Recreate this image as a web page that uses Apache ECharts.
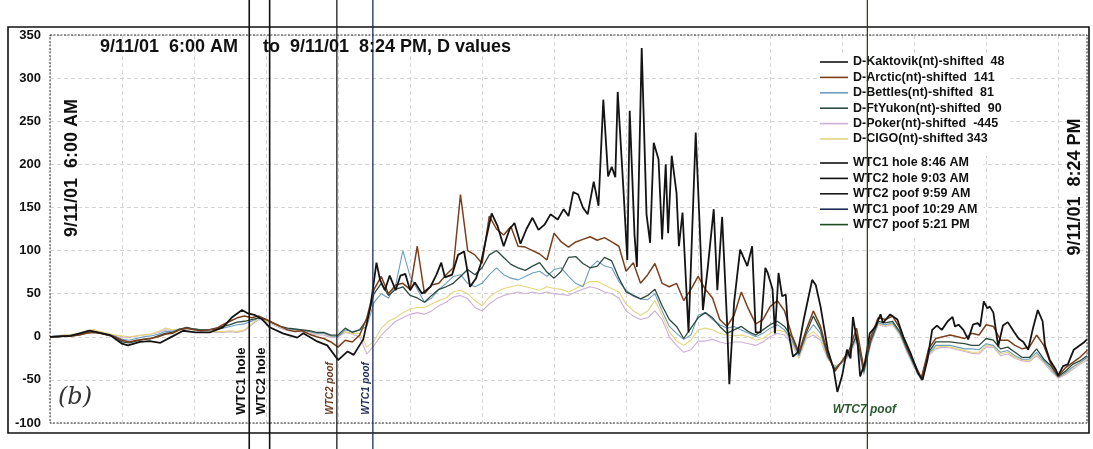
<!DOCTYPE html>
<html>
<head>
<meta charset="utf-8">
<title>9/11/01 D values</title>
<script src="https://cdn.jsdelivr.net/npm/echarts@6/dist/echarts.min.js"></script>
<style>
  html, body { margin: 0; padding: 0; background: #fff; }
  #chart { width: 1093px; height: 449px; }
</style>
</head>
<body>
<div id="chart"></div>
<script>
// x = minutes after 6:00 AM (864 = 8:24 PM); the lighter stations are read every 6 minutes
const STEP = 6;

// Kaktovik is spiky, so it is kept as traced vertices [minute, value]
const kaktovik = [
  [0,0],[17,1],[33,7],[50,2],[60,-8],[65,-10],[75,-6],[83,-5],[92,-7],[100,-1],
  [111,7],[121,5],[133,5],[144,11],[152,23],[160,31],[165,27],[171,25],[177,20],[183,11],
  [194,4],[206,-1],[211,4],[222,-5],[231,-10],[240,-27],[248,-17],[253,-21],[261,-3],[267,35],
  [272,86],[275,66],[279,54],[283,71],[288,54],[292,71],[296,73],[300,54],[304,63],[310,50],
  [317,58],[322,72],[326,86],[329,69],[335,72],[340,95],[345,99],[350,58],[355,68],[359,85],
  [364,118],[368,143],[373,128],[378,105],[383,125],[387,132],[392,108],[397,125],[402,138],[407,124],
  [412,130],[417,142],[423,136],[428,148],[432,140],[436,168],[440,165],[444,150],[448,142],[453,180],
  [457,152],[461,275],[465,186],[468,197],[471,185],[473,284],[478,165],[481,89],[483,262],[487,118],
  [489,81],[493,335],[497,142],[500,109],[503,225],[507,206],[510,113],[513,200],[515,120],[518,210],
  [522,167],[524,105],[527,144],[532,5],[538,237],[541,139],[544,31],[548,80],[553,148],[556,54],
  [560,139],[564,20],[566,-55],[570,40],[575,101],[581,82],[585,105],[588,5],[592,5],[596,80],
  [598,74],[602,55],[604,4],[607,74],[610,47],[613,49],[615,8],[619,-23],[623,-18],[628,20],
  [635,66],[638,60],[642,35],[648,-15],[653,-38],[656,-64],[660,-45],[664,-15],[667,-25],[669,23],
  [673,-10],[675,-46],[679,-30],[683,4],[688,12],[692,26],[694,16],[700,26],[706,20],[711,0],
  [717,-19],[723,-42],[727,-50],[731,-27],[735,8],[739,13],[743,8],[748,18],[752,23],[754,12],
  [757,14],[761,8],[765,-3],[769,14],[773,16],[775,12],[778,41],[781,33],[783,35],[786,28],
  [790,-11],[794,13],[798,17],[803,6],[807,-2],[811,-6],[815,-15],[819,10],[823,31],[827,18],
  [829,-10],[833,-27],[838,-38],[840,-45],[844,-34],[848,-32],[853,-15],[857,-11],[861,-7],[864,-3]
];

const arctic = [
  0,0,1,1,2,4,5,4,2,0,
  -4,-6,-4,-3,-2,0,3,4,8,10,
  8,7,8,9,14,18,22,24,22,24,
  20,16,12,8,6,7,3,0,-2,-6,
  -12,-4,-6,2,22,55,70,50,60,62,
  55,105,50,60,62,72,80,165,100,95,
  85,140,125,118,128,105,104,100,96,89,
  120,110,104,110,113,116,112,115,110,105,
  76,86,62,72,85,62,58,62,42,55,
  70,55,45,20,12,25,52,32,15,20,
  35,42,30,2,-18,8,30,12,-20,-40,
  -28,-15,10,-36,0,22,20,24,10,-12,
  -30,-48,-14,-2,0,2,0,-2,4,2,
  14,12,-4,-4,-10,-14,-12,2,-10,-32,
  -46,-36,-30,-24,-16
];

const bettles = [
  0,1,1,2,3,5,6,5,3,1,
  -3,-4,-2,0,1,3,6,6,9,10,
  9,8,8,8,10,12,14,15,18,22,
  20,16,12,9,8,8,6,4,4,1,
  0,8,6,8,12,40,50,45,60,100,
  70,55,40,45,55,62,70,72,62,58,
  62,72,80,72,68,66,70,74,76,70,
  78,80,70,62,58,80,88,82,80,64,
  54,47,44,43,50,30,12,4,-3,2,
  25,28,20,14,10,12,8,4,0,4,
  10,14,8,-4,-22,2,14,4,-24,-36,
  -30,-20,0,-42,-6,16,14,16,4,-16,
  -34,-50,-20,-10,-10,-10,-12,-14,-14,-15,
  -8,-10,-18,-16,-22,-26,-26,-18,-28,-37,
  -47,-42,-35,-30,-24
];

const ftYukon = [
  0,0,1,1,2,4,6,4,2,0,
  -6,-7,-5,-3,-2,1,4,5,9,11,
  9,8,8,10,12,14,17,18,20,22,
  20,16,12,10,9,8,7,5,5,2,
  2,10,5,8,20,50,62,48,55,58,
  48,45,40,48,55,58,62,70,78,72,
  80,95,100,92,84,80,77,82,86,75,
  68,76,92,93,85,80,82,92,88,68,
  52,48,44,48,55,36,20,12,-2,10,
  22,28,22,12,4,8,12,6,2,8,
  14,18,12,0,-20,4,24,8,-22,-38,
  -28,-18,2,-40,-4,18,16,18,6,-14,
  -32,-48,-18,-6,-6,-6,-7,-8,-10,-10,
  -2,-4,-14,-12,-18,-24,-24,-14,-26,-34,
  -46,-40,-32,-28,-22
];

const poker = [
  0,1,2,2,3,6,8,5,3,2,
  0,-1,1,2,3,5,8,7,8,9,
  9,7,7,5,5,6,5,7,14,20,
  18,14,10,7,6,6,4,2,2,-1,
  0,5,3,0,-20,-10,2,10,18,22,
  26,28,26,30,36,40,46,48,44,34,
  30,38,44,48,50,52,50,52,50,52,
  50,49,48,52,55,58,56,52,50,45,
  30,24,20,22,30,20,0,-10,-18,-15,
  -5,-5,-3,-6,-8,-6,-6,-8,-10,-6,
  0,4,2,-8,-25,-2,2,-4,-26,-34,
  -30,-22,-4,-44,-8,14,12,14,2,-18,
  -36,-50,-22,-14,-12,-13,-15,-17,-19,-20,
  -12,-12,-22,-20,-25,-28,-29,-22,-30,-40,
  -48,-44,-38,-32,-27
];

const cigo = [
  0,1,2,3,4,7,8,6,4,2,
  1,0,1,2,3,6,10,8,9,10,
  9,8,7,6,6,7,6,8,15,22,
  18,15,11,8,7,7,6,3,4,0,
  1,6,4,4,-12,-5,10,18,22,28,
  32,34,34,38,42,45,52,54,50,42,
  36,46,52,56,58,60,58,56,54,58,
  56,55,52,56,60,64,64,60,56,52,
  38,30,25,30,42,25,6,-5,-10,-4,
  8,10,8,4,2,1,2,0,-4,-2,
  4,8,6,-6,-24,0,6,-2,-25,-35,
  -30,-20,-2,-42,-6,15,13,15,3,-16,
  -34,-50,-20,-12,-11,-12,-14,-16,-18,-18,
  -10,-11,-20,-18,-24,-27,-28,-20,-29,-38,
  -47,-43,-36,-31,-25
];

const stationNames = [
  'D-Kaktovik(nt)-shifted  48',
  'D-Arctic(nt)-shifted  141',
  'D-Bettles(nt)-shifted  81',
  'D-FtYukon(nt)-shifted  90',
  'D-Poker(nt)-shifted  -445',
  'D-CIGO(nt)-shifted 343'
];
const stationColors = ['#141414', '#7b3f1c', '#6b9fbd', '#2d4a3e', '#cdb0d6', '#e4d67e'];
const stationWidths = [1.8, 1.5, 1.1, 1.3, 1.1, 1.1];

// event times in minutes after 6:00 AM
const eventNames = ['WTC1 hole 8:46 AM', 'WTC2 hole 9:03 AM', 'WTC2 poof 9:59 AM', 'WTC1 poof 10:29 AM', 'WTC7 poof 5:21 PM'];
const eventShort = ['WTC1 hole', 'WTC2 hole', 'WTC2 poof', 'WTC1 poof', 'WTC7 poof'];
const eventMinutes = [166, 183, 239, 269, 681];
const eventColors = ['#111111', '#111111', '#1c1c1c', '#1e2a55', '#1f4d22'];

const FONT = 'Liberation Sans, Arial, sans-serif';

function onGrid(values) {
    return values.map(function (v, i) { return [i * STEP, v]; });
}

const stationData = [kaktovik, onGrid(arctic), onGrid(bettles), onGrid(ftYukon), onGrid(poker), onGrid(cigo)];
const stationZ = [6, 5, 3, 4, 2, 2];

let series = stationNames.map(function (name, k) {
    return {
        name: name,
        type: 'line',
        xAxisIndex: 0,
        yAxisIndex: 0,
        symbol: 'none',
        z: stationZ[k],
        lineStyle: { color: stationColors[k], width: stationWidths[k] },
        itemStyle: { color: stationColors[k] },
        data: stationData[k]
    };
});

// the event lines live on a second, full height grid so they run past the frame
eventNames.forEach(function (name, k) {
    series.push({
        name: name,
        type: 'line',
        xAxisIndex: 1,
        yAxisIndex: 1,
        symbol: 'none',
        z: 7,
        lineStyle: { color: eventColors[k], width: k < 2 ? 1.6 : 1.3 },
        itemStyle: { color: eventColors[k] },
        data: [[eventMinutes[k], 0], [eventMinutes[k], 1]]
    });
});

// plain thin bar as legend icon, like the printed key
const legendBase = {
    orient: 'vertical',
    left: 818,
    icon: 'rect',
    itemWidth: 28,
    itemHeight: 1.6,
    itemGap: 1.4,
    backgroundColor: '#fff',
    selectedMode: false,
    textStyle: { fontFamily: FONT, fontSize: 12.5, fontWeight: 'bold', color: '#111', lineHeight: 14 }
};

const option = {
    animation: false,
    backgroundColor: '#fff',
    textStyle: { fontFamily: FONT },
    grid: [
        { left: 50, right: 6, top: 35, bottom: 26 },
        { left: 50, right: 6, top: 0, bottom: 0 }
    ],
    xAxis: [
        {
            type: 'value', gridIndex: 0, min: 0, max: 864, interval: 60,
            axisLine: { show: false }, axisTick: { show: false }, axisLabel: { show: false },
            splitLine: { show: true, lineStyle: { color: '#d4d4d4', type: [4, 3], width: 1 } }
        },
        {
            type: 'value', gridIndex: 1, min: 0, max: 864, show: false
        }
    ],
    yAxis: [
        {
            type: 'value', gridIndex: 0, min: -100, max: 350, interval: 50,
            axisLine: { show: false }, axisTick: { show: false },
            axisLabel: { margin: 9, color: '#111', fontFamily: FONT, fontSize: 13, fontWeight: 'bold' },
            splitLine: { show: true, lineStyle: { color: '#d4d4d4', type: [4, 3], width: 1 } }
        },
        {
            type: 'value', gridIndex: 1, min: 0, max: 1, show: false
        }
    ],
    legend: [
        Object.assign({}, legendBase, { top: 53, padding: [2, 6, 10, 2], data: stationNames }),
        Object.assign({}, legendBase, { top: 154, padding: [2, 6, 6, 2], data: eventNames })
    ],
    series: series
};

const chart = echarts.init(document.getElementById('chart'));
chart.setOption(option);

// frames, titles and the texts next to the event lines (placed through the axes)
let graphics = [
    { type: 'rect', z: 1, silent: true, shape: { x: 8, y: 27, width: 1081, height: 406 },
      style: { fill: null, stroke: '#111', lineWidth: 1.6 } },
    { type: 'rect', z: 1, silent: true, shape: { x: 50, y: 35, width: 1037, height: 388 },
      style: { fill: null, stroke: '#333', lineWidth: 1, lineDash: [2, 1.5] } },
    { type: 'text', z: 10, x: 100, y: 47, style: { text: '9/11/01  6:00 AM', font: 'bold 18px ' + FONT, fill: '#111', verticalAlign: 'middle' } },
    { type: 'text', z: 10, x: 263, y: 47, style: { text: 'to', font: 'bold 18px ' + FONT, fill: '#111', verticalAlign: 'middle' } },
    { type: 'text', z: 10, x: 290, y: 47, style: { text: '9/11/01  8:24 PM, D values', font: 'bold 18px ' + FONT, fill: '#111', verticalAlign: 'middle' } },
    { type: 'text', z: 10, x: 72, y: 168, rotation: Math.PI / 2,
      style: { text: '9/11/01  6:00 AM', font: 'bold 18px ' + FONT, fill: '#111', align: 'center', verticalAlign: 'middle' } },
    { type: 'text', z: 10, x: 1075, y: 187, rotation: Math.PI / 2,
      style: { text: '9/11/01  8:24 PM', font: 'bold 18px ' + FONT, fill: '#111', align: 'center', verticalAlign: 'middle' } },
    { type: 'text', z: 10, x: 58, y: 398,
      style: { text: '(b)', font: 'italic 24px DejaVu Serif, serif', fill: '#333', verticalAlign: 'middle' } }
];

const labelBottom = chart.convertToPixel({ yAxisIndex: 0 }, -90.5);
eventShort.forEach(function (text, k) {
    const px = chart.convertToPixel({ xAxisIndex: 0 }, eventMinutes[k]);
    if (k < 2) {
        graphics.push({ type: 'text', z: 10, x: px - 1.5, y: labelBottom, rotation: Math.PI / 2,
            style: { text: text, font: 'bold 13px ' + FONT, fill: '#111', align: 'left', verticalAlign: 'bottom' } });
    } else if (k < 4) {
        graphics.push({ type: 'text', z: 10, x: px - 2, y: labelBottom, rotation: Math.PI / 2,
            style: { text: text, font: 'italic bold 10px ' + FONT, fill: k === 2 ? '#6b3a1e' : '#1e2a55', align: 'left', verticalAlign: 'bottom' } });
    } else {
        graphics.push({ type: 'text', z: 10, x: px - 3, y: chart.convertToPixel({ yAxisIndex: 0 }, -84),
            style: { text: text, font: 'italic bold 12px ' + FONT, fill: '#2b5a2e', align: 'center', verticalAlign: 'middle' } });
    }
});

chart.setOption({ graphic: graphics });
</script>
</body>
</html>
